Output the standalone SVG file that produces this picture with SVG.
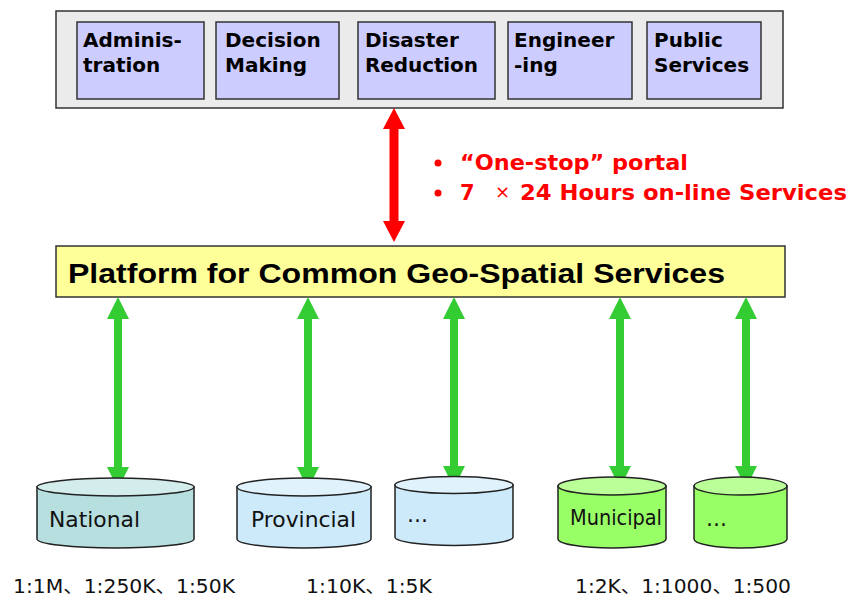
<svg xmlns="http://www.w3.org/2000/svg" width="854" height="596" viewBox="0 0 854 596">
<style>
.app{fill:#ccccff;stroke:#333;stroke-width:1.5}
.apptxt{font-family:"DejaVu Sans",Verdana,sans-serif;font-weight:bold;font-size:20px;fill:#000}
.red{font-family:"DejaVu Sans",Verdana,sans-serif;font-weight:bold;font-size:21px;fill:#ff0000}
.db{stroke:#222;stroke-width:1.5}
.dbtxt{font-family:"DejaVu Sans",Tahoma,sans-serif;font-size:21px;fill:#111}
.scale{font-family:"DejaVu Sans","Noto Sans CJK SC",sans-serif;font-size:19px;fill:#111}
.g{fill:#33cc33}
</style>
<rect width="854" height="596" fill="#ffffff"/>

<g id="applications">
<rect x="56" y="11" width="727" height="97" fill="#ebebeb" stroke="#333" stroke-width="1.5"/>
</g>
<g id="administration">
<rect class="app" x="77" y="22" width="127" height="77"/>
<text class="apptxt" x="83" y="47">Adminis-</text>
<text class="apptxt" x="83" y="72">tration</text>
</g>
<g id="decision">
<rect class="app" x="216" y="22" width="123" height="77"/>
<text class="apptxt" x="225" y="47">Decision</text>
<text class="apptxt" x="225" y="72">Making</text>
</g>
<g id="disaster">
<rect class="app" x="358" y="22" width="137" height="77"/>
<text class="apptxt" x="365" y="47">Disaster</text>
<text class="apptxt" x="365" y="72" textLength="113">Reduction</text>
</g>
<g id="engineering">
<rect class="app" x="508" y="22" width="124" height="77"/>
<text class="apptxt" x="514" y="47">Engineer</text>
<text class="apptxt" x="514" y="72">-ing</text>
</g>
<g id="public">
<rect class="app" x="647" y="22" width="114" height="77"/>
<text class="apptxt" x="654" y="47">Public</text>
<text class="apptxt" x="654" y="72">Services</text>
</g>

<g id="portal-notes">
<circle cx="438" cy="163" r="3.5" fill="#ff0000"/>
<circle cx="438" cy="193" r="3.5" fill="#ff0000"/>
<text class="red" x="460" y="170" textLength="228" lengthAdjust="spacingAndGlyphs">“One-stop” portal</text>
<text class="red" x="460" y="200">7</text>
<text x="495" y="198" font-family="DejaVu Sans,sans-serif" font-size="18" fill="#ff0000">×</text>
<text class="red" x="520" y="200" textLength="327" lengthAdjust="spacingAndGlyphs">24 Hours on-line Services</text>
</g>

<g id="platform">
<rect x="56" y="246" width="729" height="51" fill="#ffff99" stroke="#333" stroke-width="1.5"/>
<text x="68" y="283" font-family="Liberation Sans,Arial,sans-serif" font-weight="bold" font-size="28" textLength="657" lengthAdjust="spacingAndGlyphs">Platform for Common Geo-Spatial Services</text>
</g>

<g id="connectors">
<polygon fill="#ff0000" points="394,108 405,129 398.5,129 398.5,221 405,221 394,242 383,221 389.5,221 389.5,129 383,129"/>
<polygon class="g" points="118,297 129,319 122,319 122,467 129,467 118,489 107,467 114,467 114,319 107,319"/>
<polygon class="g" points="308,297 319,319 312,319 312,467 319,467 308,489 297,467 304,467 304,319 297,319"/>
<polygon class="g" points="454,297 465,319 458,319 458,466 465,466 454,488 443,466 450,466 450,319 443,319"/>
<polygon class="g" points="620,297 631,319 624,319 624,466 631,466 620,488 609,466 616,466 616,319 609,319"/>
<polygon class="g" points="746,297 757,319 750,319 750,466 757,466 746,488 735,466 742,466 742,319 735,319"/>
</g>

<g id="national">
<path class="db" fill="#b7dfe0" d="M37,487 L37,539 A78.5,9 0 0 0 194,539 L194,487 Z"/>
<ellipse class="db" fill="#d3ecec" cx="115.5" cy="487" rx="78.5" ry="9"/>
<text class="dbtxt" x="49" y="527" textLength="91" lengthAdjust="spacingAndGlyphs">National</text>
</g>
<g id="provincial">
<path class="db" fill="#cceafa" d="M237,487 L237,539 A67,9 0 0 0 371,539 L371,487 Z"/>
<ellipse class="db" fill="#e0f3fc" cx="304" cy="487" rx="67" ry="9"/>
<text class="dbtxt" x="251" y="527" textLength="105" lengthAdjust="spacingAndGlyphs">Provincial</text>
</g>
<g id="provincial-more">
<path class="db" fill="#cceafa" d="M395,485 L395,537 A59,8.5 0 0 0 513,537 L513,485 Z"/>
<ellipse class="db" fill="#e0f3fc" cx="454" cy="485" rx="59" ry="8.5"/>
<text class="dbtxt" x="407" y="522" font-size="16">…</text>
</g>
<g id="municipal">
<path class="db" fill="#99ff66" d="M558,486 L558,539 A54,9 0 0 0 666,539 L666,486 Z"/>
<ellipse class="db" fill="#bbff99" cx="612" cy="486" rx="54" ry="9"/>
<text class="dbtxt" x="570" y="525" font-size="19" textLength="92" lengthAdjust="spacingAndGlyphs">Municipal</text>
</g>
<g id="municipal-more">
<path class="db" fill="#99ff66" d="M694,486 L694,539 A46.5,9 0 0 0 787,539 L787,486 Z"/>
<ellipse class="db" fill="#bbff99" cx="740.5" cy="486" rx="46.5" ry="9"/>
<text class="dbtxt" x="706" y="526" font-size="16">…</text>
</g>

<g id="scales">
<text class="scale" x="13" y="593" textLength="222" lengthAdjust="spacingAndGlyphs">1:1M、1:250K、1:50K</text>
<text class="scale" x="306" y="593" textLength="126" lengthAdjust="spacingAndGlyphs">1:10K、1:5K</text>
<text class="scale" x="575" y="593" textLength="216" lengthAdjust="spacingAndGlyphs">1:2K、1:1000、1:500</text>
</g>
</svg>
